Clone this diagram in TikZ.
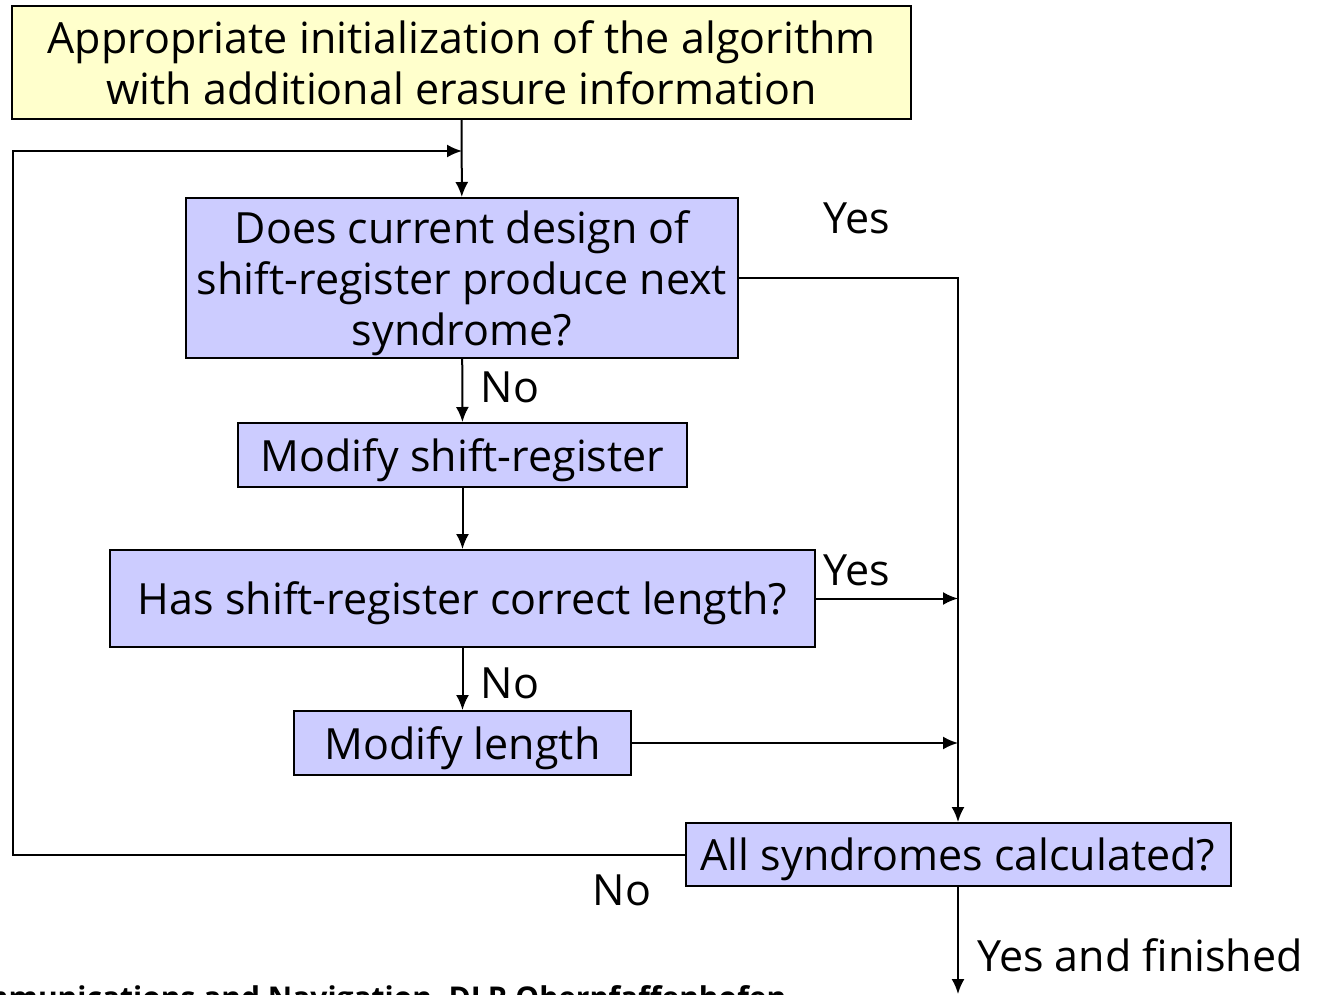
\documentclass[tikz,border=0pt]{standalone}
\usepackage{fontspec}
\setmainfont{Open Sans}
\usetikzlibrary{arrows.meta}
\definecolor{initfill}{HTML}{FFFFCC}
\definecolor{stepfill}{HTML}{CCCCFF}
\tikzset{
  box/.style={draw, line width=2pt, align=center, inner sep=0pt, font=\fontsize{43}{51}\selectfont},
  initbox/.style={box, fill=initfill},
  stepbox/.style={box, fill=stepfill, text depth=0pt},
  flow/.style={line width=2pt, -{Latex[length=15pt,width=13pt]}},
  lbl/.style={font=\fontsize{43}{50}\selectfont}
}
\begin{document}
\begin{tikzpicture}[x=1pt, y=-1pt]
  \path[use as bounding box, fill=white] (0,0) rectangle (1323,995);
  \node[initbox, minimum width=899pt, minimum height=113pt] (init) at (461.5,62.5)
    {Appropriate initialization of the algorithm\\with additional erasure information};
  \node[stepbox, minimum width=552pt, minimum height=160pt] (next) at (462,278)
    {Does current design of\\shift-register produce next\\syndrome?};
  \node[stepbox, minimum width=449pt, minimum height=64pt] (modreg) at (462.5,455)
    {Modify shift-register};
  \node[stepbox, minimum width=705pt, minimum height=97pt] (len) at (462.5,598.5)
    {Has shift-register correct length?};
  \node[stepbox, minimum width=337pt, minimum height=64pt] (modlen) at (462.5,743)
    {Modify length};
  \node[stepbox, minimum width=545pt, minimum height=63pt] (all) at (958,854.5)
    {All syndromes calculated?};
  \coordinate (loop) at (462,151);
  \coordinate (done) at (958,994);
  \draw[flow] (init) -- (next);
  \draw[flow] (all.west) -- ++(-672,0) |- (loop);
  \draw[flow] (next.east) -| (all.north);
  \draw[flow] (next) -- (modreg);
  \draw[flow] (modreg) -- (len);
  \draw[flow] (len) -- (modlen);
  \draw[flow] (len.east) -- (len.east -| all.north);
  \draw[flow] (modlen.east) -- (modlen.east -| all.north);
  \draw[flow] (all) -- (done);
  \node[lbl] (yes1) at (857,218) {Yes};
  \node[lbl] (no1) at (510,387) {No};
  \node[lbl] (yes2) at (857,570) {Yes};
  \node[lbl] (no2) at (510,683) {No};
  \node[lbl] (no3) at (622,890) {No};
  \node[lbl] (fin) at (1140,955) {Yes and finished};
  \node[anchor=base east, font=\bfseries\fontsize{30}{36}\selectfont] (foot) at (790,1008)
    {Institute of Communications and Navigation, DLR Oberpfaffenhofen};
\end{tikzpicture}
\end{document}
